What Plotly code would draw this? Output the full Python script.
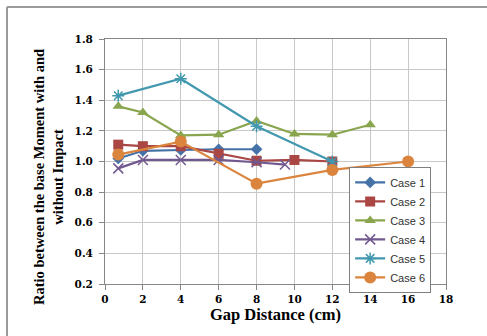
import plotly.graph_objects as go

case1_x = [0.7, 2, 4, 6, 8]
case1_y = [1.02, 1.07, 1.075, 1.08, 1.08]
case2_x = [0.7, 2, 4, 6, 8, 10, 12]
case2_y = [1.11, 1.10, 1.10, 1.05, 1.005, 1.01, 1.0]
case3_x = [0.7, 2, 4, 6, 8, 10, 12, 14]
case3_y = [1.36, 1.32, 1.17, 1.175, 1.265, 1.18, 1.175, 1.24]
case4_x = [0.7, 2, 4, 6, 8, 9.5]
case4_y = [0.955, 1.01, 1.01, 1.01, 0.995, 0.98]
case5_x = [0.7, 4, 8, 12]
case5_y = [1.43, 1.54, 1.23, 1.0]
case6_x = [0.7, 4, 8, 12, 16]
case6_y = [1.045, 1.13, 0.855, 0.945, 1.0]

names = ["Case 1", "Case 2", "Case 3", "Case 4", "Case 5", "Case 6"]
xs = [case1_x, case2_x, case3_x, case4_x, case5_x, case6_x]
ys = [case1_y, case2_y, case3_y, case4_y, case5_y, case6_y]
colors = ["#4572A7", "#AA4643", "#89A54E", "#71588F", "#4198AF", "#DB843D"]
symbols = ["diamond", "square", "triangle-up", "x-thin-open", "asterisk-open", "circle"]
sizes = [9, 10, 10, 10, 10, 12]

fig = go.Figure()
for n, x, y, c, s, sz in zip(names, xs, ys, colors, symbols, sizes):
    marker = dict(symbol=s, size=sz, color=c)
    if s.endswith("open"):
        marker["line"] = dict(color=c, width=1.5)
    fig.add_trace(go.Scatter(x=x, y=y, name=n, mode="lines+markers",
                             line=dict(color=c, width=2.2), marker=marker))

tick_font = dict(family="DejaVu Serif", size=10.5, color="#000")
fig.update_layout(
    width=487, height=336,
    margin=dict(l=105, r=41, t=39, b=52),
    paper_bgcolor="white", plot_bgcolor="white",
    showlegend=True,
    legend=dict(x=0.716, y=0.478, xanchor="left", yanchor="top",
                bordercolor="#7f7f7f", borderwidth=1, bgcolor="white",
                font=dict(family="Liberation Sans", size=11, color="#333"),
                tracegroupgap=0, itemwidth=30),
    xaxis=dict(range=[0, 18], dtick=2, tick0=0, showgrid=True, gridcolor="#c8c8c8",
               showline=True, linecolor="#868686", mirror=True, zeroline=False,
               ticks="outside", ticklen=5, tickcolor="#868686",
               tickfont=tick_font,
               title=dict(text="<b>Gap Distance (cm)</b>",
                          font=dict(family="Liberation Serif", size=16.5, color="#000"),
                          standoff=4)),
    yaxis=dict(range=[0.2, 1.8], dtick=0.2, tick0=0.2, showgrid=True, gridcolor="#c8c8c8",
               showline=True, linecolor="#868686", mirror=True, zeroline=False,
               ticks="outside", ticklen=5, tickcolor="#868686",
               tickformat=".1f", tickfont=tick_font, ticklabelstandoff=4),
)
fig.update_xaxes(tickprefix="<b>", ticksuffix="</b>")
fig.update_yaxes(tickprefix="<b>", ticksuffix="</b>")

fig.add_annotation(text="<b>Ratio between the base Moment with and<br>without Impact</b>",
                   xref="paper", yref="paper", x=(48.5 - 105) / 341, y=(284 - 177.5) / 245,
                   xanchor="center", yanchor="middle", textangle=-90, showarrow=False,
                   font=dict(family="Liberation Serif", size=14.5, color="#000"))

# outer chart frame (partially visible: left and top edges)
fig.add_shape(type="line", xref="paper", yref="paper",
              x0=(7 - 105) / 341, x1=(7 - 105) / 341, y0=(284 - 7) / 245, y1=(284 - 340) / 245,
              line=dict(color="#9a9a9a", width=2))
fig.add_shape(type="line", xref="paper", yref="paper",
              x0=(7 - 105) / 341, x1=(490 - 105) / 341, y0=(284 - 7) / 245, y1=(284 - 7) / 245,
              line=dict(color="#9a9a9a", width=2))

fig.write_html("out.html")
